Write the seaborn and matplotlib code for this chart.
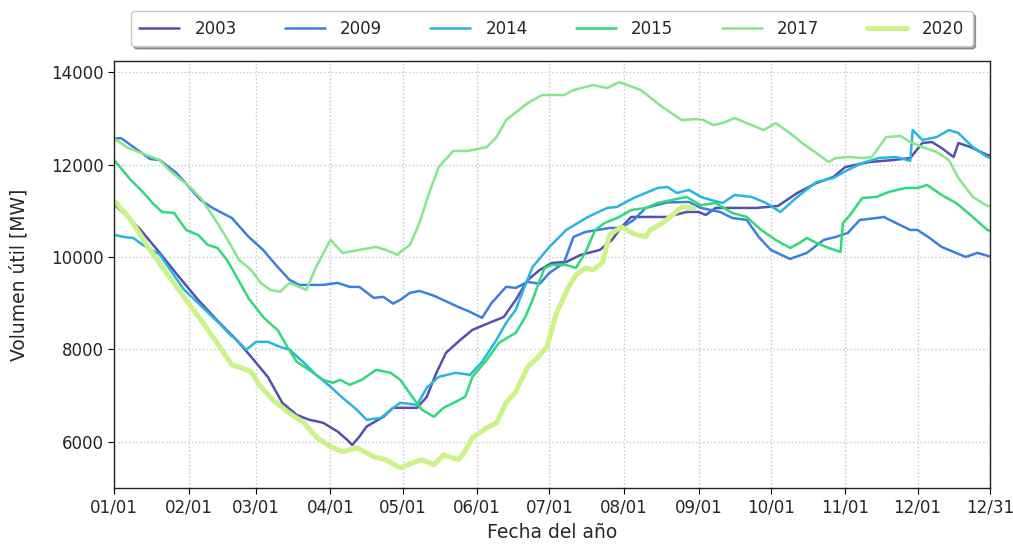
import numpy as np
import pandas as pd
import matplotlib
matplotlib.use("Agg")
import matplotlib.pyplot as plt
import seaborn as sns

# Useful reservoir volume by day of year
years = ["2003", "2009", "2014", "2015", "2017", "2020"]

day_2003 = [1, 12, 20, 28, 36, 44, 52, 58, 65, 71, 77, 82, 88, 94, 98, 100, 103, 106, 113, 117,
            124, 127, 131, 135, 139, 145, 150, 158, 163, 168, 173, 178, 183, 189, 195, 203, 208,
            212, 216, 224, 231, 239, 244, 247, 251, 260, 268, 277, 285, 293, 300, 305, 315, 325,
            332, 337, 341, 345, 350, 352, 357, 364, 365]
val_2003 = [11150, 10590, 10090, 9570, 9070, 8620, 8200, 7840, 7400, 6840, 6580, 6480, 6410, 6220,
            6040, 5930, 6110, 6330, 6540, 6735, 6735, 6735, 6970, 7490, 7925, 8206, 8422, 8595,
            8700, 9071, 9503, 9719, 9870, 9892, 10044, 10152, 10368, 10649, 10865, 10865, 10865,
            10973, 10973, 10908, 11060, 11060, 11060, 11103, 11384, 11600, 11730, 11946, 12054,
            12097, 12141, 12465, 12487, 12357, 12162, 12465, 12378, 12206, 12200]

day_2009 = [1, 4, 16, 20, 27, 37, 42, 50, 57, 63, 69, 74, 78, 88, 94, 99, 103, 109, 113, 117, 120,
            124, 128, 134, 144, 149, 154, 158, 164, 168, 173, 178, 182, 188, 192, 197, 207, 212,
            217, 222, 231, 240, 245, 253, 258, 264, 269, 274, 282, 289, 296, 301, 306, 311, 318,
            321, 326, 332, 335, 340, 345, 351, 355, 360, 365]
val_2009 = [12560, 12570, 12120, 12097, 11816, 11233, 11060, 10843, 10433, 10152, 9784, 9503, 9395,
            9395, 9438, 9352, 9352, 9114, 9136, 8990, 9071, 9222, 9265, 9160, 8920, 8811, 8682,
            9006, 9352, 9330, 9460, 9420, 9654, 9870, 10433, 10541, 10627, 10627, 10800, 11060,
            11180, 11190, 11060, 10973, 10843, 10800, 10433, 10152, 9957, 10087, 10368, 10433,
            10519, 10800, 10843, 10865, 10735, 10584, 10584, 10411, 10217, 10087, 10000, 10087,
            10010]

day_2014 = [1, 5, 9, 13, 20, 30, 45, 50, 52, 56, 60, 65, 70, 74, 80, 85, 91, 96, 102, 106, 112,
            116, 120, 127, 131, 136, 143, 149, 154, 160, 164, 168, 170, 175, 182, 189, 198, 206,
            210, 217, 227, 231, 235, 240, 245, 249, 254, 259, 266, 272, 278, 285, 293, 300, 306,
            312, 319, 326, 332, 333, 337, 343, 348, 352, 358, 364, 365]
val_2014 = [10480, 10433, 10411, 10260, 10050, 9300, 8550, 8280, 8206, 7990, 8163, 8163, 8055,
            7990, 7708, 7449, 7190, 6952, 6692, 6476, 6519, 6692, 6844, 6800, 7168, 7406, 7492,
            7449, 7730, 8206, 8573, 8855, 9136, 9784, 10217, 10584, 10865, 11060, 11081, 11276,
            11492, 11514, 11384, 11449, 11298, 11233, 11168, 11341, 11298, 11168, 10973, 11298,
            11622, 11708, 11881, 12032, 12141, 12162, 12080, 12746, 12530, 12595, 12746, 12681,
            12378, 12162, 12150]

day_2015 = [1, 8, 13, 17, 21, 26, 31, 36, 40, 44, 48, 52, 57, 63, 65, 69, 73, 77, 82, 88, 92, 95,
            99, 104, 110, 116, 120, 125, 129, 134, 138, 143, 147, 150, 156, 161, 168, 172, 175,
            178, 180, 183, 189, 193, 197, 201, 205, 211, 216, 222, 227, 233, 239, 245, 251, 258,
            264, 270, 276, 282, 286, 289, 293, 298, 303, 304, 307, 312, 318, 323, 330, 335, 339,
            345, 351, 357, 364, 365]
val_2015 = [12100, 11665, 11406, 11168, 10973, 10951, 10584, 10476, 10260, 10195, 9935, 9568,
            9100, 8703, 8600, 8422, 8055, 7730, 7557, 7341, 7276, 7341, 7233, 7341, 7557, 7492,
            7341, 6973, 6692, 6541, 6735, 6865, 6973, 7406, 7773, 8141, 8357, 8703, 9071, 9500,
            9762, 9827, 9827, 9762, 10100, 10584, 10735, 10865, 11016, 11060, 11168, 11233,
            11298, 11120, 11168, 10951, 10865, 10584, 10368, 10195, 10303, 10411, 10303, 10195,
            10108, 10735, 10908, 11276, 11298, 11406, 11492, 11492, 11557, 11341, 11168, 10908,
            10584, 10570]

day_2017 = [1, 7, 20, 24, 33, 37, 41, 45, 49, 53, 58, 62, 66, 70, 74, 78, 81, 85, 91, 96, 103,
            110, 114, 119, 120, 124, 128, 132, 136, 142, 148, 156, 160, 164, 173, 179, 188, 192,
            200, 206, 211, 220, 229, 237, 243, 246, 250, 254, 259, 264, 271, 276, 282, 287, 293,
            298, 301, 307, 312, 316, 322, 328, 332, 337, 343, 348, 352, 358, 364, 365]
val_2017 = [12560, 12357, 12097, 11880, 11492, 11276, 10973, 10649, 10303, 9935, 9719, 9438, 9287,
            9244, 9438, 9352, 9287, 9784, 10368, 10087, 10152, 10217, 10152, 10044, 10108, 10260,
            10735, 11384, 11946, 12292, 12292, 12378, 12595, 12962, 13330, 13503, 13503, 13611,
            13719, 13654, 13784, 13611, 13243, 12962, 12984, 12962, 12854, 12897, 13005, 12897,
            12746, 12897, 12681, 12465, 12249, 12054, 12141, 12162, 12141, 12162, 12595, 12616,
            12487, 12378, 12270, 12097, 11708, 11298, 11103, 11100]

day_2020 = [1, 2, 8, 16, 24, 31, 38, 45, 50, 54, 58, 62, 67, 73, 80, 85, 91, 96, 102, 109, 114,
            119, 120, 125, 129, 134, 138, 144, 146, 150, 156, 160, 164, 168, 173, 177, 181, 185,
            190, 193, 197, 200, 204, 207, 212, 217, 222, 224, 229, 233, 237, 242]
val_2020 = [11200, 11168, 10800, 10152, 9568, 9071, 8573, 8055, 7665, 7600, 7514, 7190, 6909,
            6649, 6411, 6109, 5892, 5784, 5870, 5676, 5611, 5460, 5438, 5546, 5611, 5503, 5719,
            5611, 5719, 6087, 6303, 6411, 6844, 7082, 7622, 7817, 8055, 8800, 9352, 9611, 9762,
            9719, 9870, 10480, 10649, 10500, 10433, 10584, 10735, 10900, 11081, 11060]

tick_days = [1, 32, 60, 91, 121, 152, 182, 213, 244, 274, 305, 335, 365]
tick_labels = ["01/01", "02/01", "03/01", "04/01", "05/01", "06/01", "07/01",
               "08/01", "09/01", "10/01", "11/01", "12/01", "12/31"]
y_ticks = [6000, 8000, 10000, 12000, 14000]

colors = {"2003": "#5550b0", "2009": "#3a80dd", "2014": "#27b6df",
          "2015": "#30d97c", "2017": "#85e68c", "2020": "#cbf38a"}
widths = {"2003": 1.8, "2009": 1.8, "2014": 1.8, "2015": 1.8, "2017": 1.8, "2020": 3.6}

series = {
    "2003": (day_2003, val_2003),
    "2009": (day_2009, val_2009),
    "2014": (day_2014, val_2014),
    "2015": (day_2015, val_2015),
    "2017": (day_2017, val_2017),
    "2020": (day_2020, val_2020),
}
frames = [pd.DataFrame({"day": d, "volumen": v, "year": y}) for y, (d, v) in series.items()]
df = pd.concat(frames, ignore_index=True)

sns.set_style("ticks")
plt.rcParams["font.family"] = ["DejaVu Sans"]

fig = plt.figure(figsize=(10.13, 5.48), dpi=100)
ax = fig.add_axes([0.1125, 0.1095, 0.8645, 0.7792])

sns.lineplot(data=df, x="day", y="volumen", hue="year", size="year",
             hue_order=years, size_order=years, palette=colors, sizes=widths,
             estimator=None, sort=True, ax=ax, legend=False)

ax.set_xlim(1, 365)
ax.set_ylim(5000, 14240)
ax.set_xticks(tick_days)
ax.set_xticklabels(tick_labels)
ax.set_yticks(y_ticks)
ax.tick_params(axis="both", labelsize=12, direction="out", length=4, color="black")
ax.grid(True, linestyle=":", color="#c8c8c8", linewidth=1.0)
for s in ax.spines.values():
    s.set_color("#222222")
    s.set_linewidth(1.0)

ax.set_xlabel("Fecha del año", fontsize=13.5, labelpad=5)
ax.set_ylabel("Volumen útil [MW]", fontsize=13.5, labelpad=16)

handles = [plt.Line2D([], [], color=colors[y], lw=widths[y]) for y in years]
ax.legend(handles, years, loc="lower center", bbox_to_anchor=(0.5, 1.035), ncol=6,
          frameon=True, shadow=True, fancybox=True, fontsize=12, handlelength=2.4,
          handletextpad=0.9, columnspacing=2.9, borderaxespad=0.0,
          borderpad=0.5)

fig.savefig("out.png", dpi=100)
